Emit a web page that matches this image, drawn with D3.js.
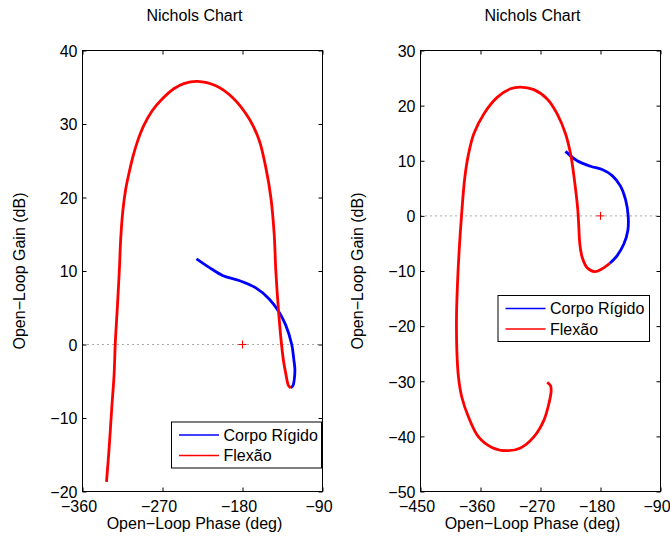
<!DOCTYPE html>
<html>
<head>
<meta charset="utf-8">
<script src="https://cdn.jsdelivr.net/npm/d3@7"></script>
<style>
  body { margin: 0; background: #fff; }
  text { font-family: "Liberation Sans", Arial, sans-serif; font-size: 16px; fill: #000; }
</style>
</head>
<body>
<svg id="chart" width="670" height="536"></svg>
<script>
// ---- data ----
const titleText = "Nichols Chart"
const xLabelText = "Open\u2212Loop Phase (deg)"
const yLabelText = "Open\u2212Loop Gain (dB)"
const legendLabels = ["Corpo Rígido", "Flexão"]
const seriesColors = ["#0000ff", "#ff0000"]
const criticalPoint = [-180, 0]

// left chart
const leftPhaseTicks = [-360, -270, -180, -90]
const leftGainTicks = [-20, -10, 0, 10, 20, 30, 40]
const leftRigidPhase = [-231.75, -217.5, -202.5, -183.75, -165, -150, -138.75, -131.25, -124.6, -122.3, -121.1, -121.6, -123.2, -125.6]
const leftRigidGain = [11.66, 10.5, 9.4, 8.7, 7.7, 6.2, 4.4, 2.6, 0, -2.0, -3.3, -4.6, -5.6, -5.9]
const leftFlexPhase = [-333, -330, -327, -324.4, -323.2, -320.6, -318.6, -316.9, -314.6, -311.6, -307.9, -303.4, -298.5, -291, -281.6, -270.4, -257.3, -246, -230.6, -210, -191.25, -172.5, -161.25, -153.8, -148.1, -144.4, -142.5, -139.5, -136.1, -133.9, -131.25, -128.25, -125.6]
const leftFlexGain = [-18.7, -14.0, -8.5, -4.0, 0, 5.5, 10, 14.6, 18.2, 21.0, 23.2, 25.5, 27.5, 29.8, 31.8, 33.4, 34.8, 35.5, 35.8, 35.2, 33.6, 30.7, 27.8, 24.1, 20.0, 15.1, 10, 4.6, 0, -2.2, -4.0, -5.6, -5.9]

// right chart
const rightPhaseTicks = [-450, -360, -270, -180, -90]
const rightGainTicks = [-50, -40, -30, -20, -10, 0, 10, 20, 30]
const rightRigidPhase = [-232.5, -215, -195, -177.5, -162.5, -150, -142.5, -138.5, -139, -145, -155, -166]
const rightRigidGain = [11.7, 10.0, 9.0, 8.4, 7.3, 5.4, 3.0, 0, -2.65, -5.1, -7.2, -8.6]
const rightFlexPhase = [-260, -255, -254, -257.5, -265, -280, -300, -320.5, -343, -363, -378, -388, -393, -395.5, -396, -394.5, -392, -388.5, -383.5, -378, -370, -355, -335, -315, -300, -280, -260, -245, -232.5, -225, -219, -214, -212.5, -211, -207.5, -200, -189, -177.5, -166]
const rightFlexGain = [-30.2, -30.8, -31.7, -34.1, -37.1, -40.1, -42.1, -42.6, -42.0, -40.1, -36.5, -32.9, -29.3, -24.4, -18.4, -12.3, -6.3, 0, 7.0, 11.2, 14.9, 18.5, 21.5, 23.05, 23.35, 22.9, 21.2, 18.5, 14.9, 11.3, 6.4, 1.0, -2.1, -5.1, -7.5, -9.4, -10.1, -9.6, -8.6]

const svg = d3.select("#chart")
svg.append("rect").attr("width", 670).attr("height", 536).attr("fill", "#fff")

function drawPanel(p) {
  const x = d3.scaleLinear().domain(d3.extent(p.xTicks)).range([p.left, p.right])
  const y = d3.scaleLinear().domain(d3.extent(p.yTicks)).range([p.bottom, p.top])
  const g = svg.append("g")

  // 0 dB dotted line
  g.append("line")
    .attr("x1", x.range()[0]).attr("x2", x.range()[1])
    .attr("y1", y(0)).attr("y2", y(0))
    .attr("stroke", "#555").attr("stroke-width", 1)
    .attr("stroke-dasharray", "1,4")

  // axes, ticks inside on all four sides
  const bottom = g.append("g").attr("transform", `translate(0,${p.bottom})`)
    .call(d3.axisBottom(x).tickValues(p.xTicks).tickSizeInner(-4).tickSizeOuter(0).tickPadding(9))
  bottom.selectAll("text").attr("dx", -4)
  g.append("g").attr("transform", `translate(0,${p.top})`)
    .call(d3.axisTop(x).tickValues(p.xTicks).tickSizeInner(-4).tickSizeOuter(0).tickFormat(""))
  const left = g.append("g").attr("transform", `translate(${p.left},0)`)
    .call(d3.axisLeft(y).tickValues(p.yTicks).tickSizeInner(-4).tickSizeOuter(0).tickPadding(5))
  left.selectAll("text").attr("dy", "0.36em")
  g.append("g").attr("transform", `translate(${p.right},0)`)
    .call(d3.axisRight(y).tickValues(p.yTicks).tickSizeInner(-4).tickSizeOuter(0).tickFormat(""))
  g.selectAll(".domain").attr("stroke", "none")
  g.selectAll(".tick line").attr("stroke", "#000")

  g.append("rect")
    .attr("x", p.left).attr("y", p.top)
    .attr("width", p.right - p.left).attr("height", p.bottom - p.top)
    .attr("fill", "none").attr("stroke", "#000").attr("stroke-width", 1)

  // curves
  const line = d3.line()
    .x(d => x(d[0]))
    .y(d => y(d[1]))
    .curve(d3.curveCatmullRom.alpha(0.5))
  p.series.forEach((s, i) => {
    g.append("path")
      .datum(d3.zip(s[0], s[1]))
      .attr("d", line)
      .attr("fill", "none")
      .attr("stroke", seriesColors[i])
      .attr("stroke-width", 2.8)
      .attr("stroke-linejoin", "round")
  })

  // critical point marker
  const cx = x(criticalPoint[0]), cy = y(criticalPoint[1])
  g.append("path")
    .attr("d", `M${cx - 4},${cy}H${cx + 4}M${cx},${cy - 4}V${cy + 4}`)
    .attr("stroke", "#ff0000").attr("stroke-width", 1)

  // titles and labels
  const mid = (p.left + p.right) / 2 - 8
  g.append("text").attr("x", mid).attr("y", 21).attr("text-anchor", "middle").text(titleText)
  g.append("text").attr("x", mid).attr("y", 529).attr("text-anchor", "middle").text(xLabelText)
  g.append("text")
    .attr("transform", `translate(${p.yLabelX},${(p.top + p.bottom) / 2}) rotate(-90)`)
    .attr("text-anchor", "middle").text(yLabelText)

  // legend
  const lg = g.append("g").attr("transform", `translate(${p.legend[0]},${p.legend[1]})`)
  lg.append("rect").attr("x", 0.5).attr("y", 0.5).attr("width", p.legend[2]).attr("height", 46)
    .attr("fill", "#fff").attr("stroke", "#000").attr("stroke-width", 1)
  legendLabels.forEach((label, i) => {
    const ry = 13.5 + i * 20.5
    lg.append("line").attr("x1", 8).attr("x2", 48).attr("y1", ry).attr("y2", ry)
      .attr("stroke", seriesColors[i]).attr("stroke-width", 1.5)
    lg.append("text").attr("x", 52.5).attr("y", ry + 5.8).text(label)
  })
}

drawPanel({
  left: 82.5, right: 322.5, top: 50.5, bottom: 491.5,
  xTicks: leftPhaseTicks, yTicks: leftGainTicks,
  series: [[leftRigidPhase, leftRigidGain], [leftFlexPhase, leftFlexGain]],
  yLabelX: 25, legend: [171, 421.5, 150]
})

drawPanel({
  left: 420.5, right: 660.5, top: 50.5, bottom: 491.5,
  xTicks: rightPhaseTicks, yTicks: rightGainTicks,
  series: [[rightRigidPhase, rightRigidGain], [rightFlexPhase, rightFlexGain]],
  yLabelX: 363, legend: [497.5, 295, 151.5]
})
</script>
</body>
</html>
